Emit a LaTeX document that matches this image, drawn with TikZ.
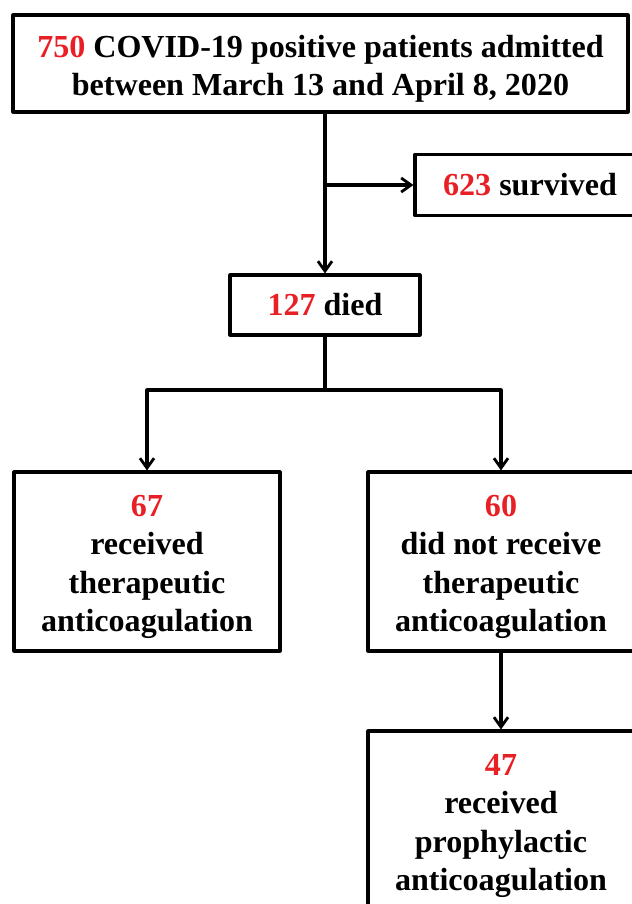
\documentclass[tikz,border=0pt]{standalone}
\usepackage{fontspec}
\setmainfont{Liberation Serif}
\usetikzlibrary{arrows.meta}
\definecolor{numred}{RGB}{232,32,38}
\newcommand{\nb}[1]{\textcolor{numred}{#1}}
\newcommand{\nbtop}[1]{\rule{0pt}{23pt}\nb{#1}}
\def\px{0.025cm}
\begin{document}
\begin{tikzpicture}[x=\px, y=-\px, line join=round, >={Straight Barb[length=7pt,width=10pt,line width=2pt]}]
\tikzset{box/.style={draw, line width=2.2pt, align=center, inner sep=0pt,
  font=\bfseries\fontsize{22.8}{27.4}\selectfont},
  link/.style={line width=2.2pt}}
\useasboundingbox (0,0) rectangle (632,904);
\node[box, minimum width=615*\px, minimum height=97*\px] (admit) at (320.5,63.5)
  {\nbtop{750} COVID-19 positive patients admitted\\between March 13 and April 8, 2020};
\node[box, minimum width=230*\px, minimum height=61*\px] (surv) at (530,185) {\nb{623} survived};
\node[box, minimum width=190*\px, minimum height=60*\px] (died) at (325,305) {\nb{127} died};
\node[box, minimum width=266*\px, minimum height=179*\px] (thera) at (147,561.5)
  {\nbtop{67}\\received\\therapeutic\\anticoagulation};
\node[box, minimum width=266*\px, minimum height=179*\px] (nothera) at (501,561.5)
  {\nbtop{60}\\did not receive\\therapeutic\\anticoagulation};
\node[box, minimum width=266*\px, minimum height=179*\px] (prophy) at (501,820.5)
  {\nbtop{47}\\received\\prophylactic\\anticoagulation};
\coordinate (split) at (325,185);
\coordinate (fork) at (325,390);
\draw[link,->] (died.north |- admit.south) -- (died.north);
\draw[link,->] (split) -- (surv.west);
\draw[link] (died.south) -- (fork);
\draw[link,->] (fork) -| (thera.north);
\draw[link,->] (fork) -| (nothera.north);
\draw[link,->] (nothera.south) -- (prophy.north);
\end{tikzpicture}
\end{document}
